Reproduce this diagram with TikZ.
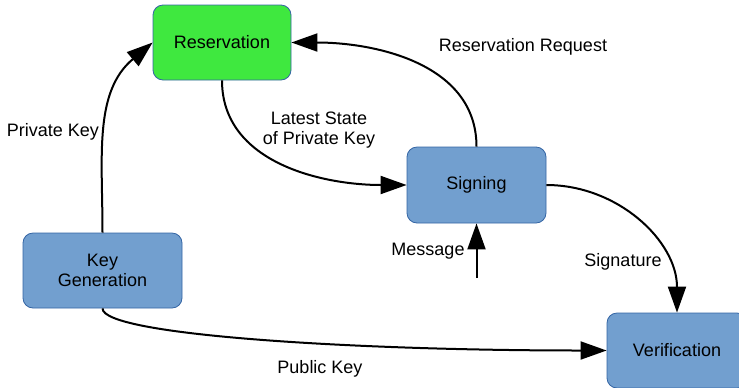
\documentclass[tikz,border=0pt]{standalone}
\usepackage{fontspec}
\setmainfont{Liberation Sans}
\usepackage{tikz}
\usetikzlibrary{arrows.meta}

\definecolor{boxblue}{HTML}{729FCF}
\definecolor{boxgreen}{HTML}{3FE83F}
\definecolor{edgeblue}{HTML}{3465A4}

\begin{document}
\begin{tikzpicture}[x=0.75pt, y=-0.75pt,
		font=\fontsize{13.5}{15}\selectfont,
		block/.style={draw=edgeblue, line width=0.6pt, fill=boxblue, rounded corners=7.5pt,
			inner sep=0pt, align=center, minimum height=56.25pt},
		link/.style={line width=1.5pt, -{Triangle[length=19.5pt, width=13.5pt]}}]
		\useasboundingbox (0,0) rectangle (739,387);
		
		% Coordinates
		\coordinate (C_res) at (222, 42.5);
		\coordinate (C_sig) at (476.5, 185);
		\coordinate (C_key) at (102.5, 270.5);
		\coordinate (C_ver) at (677, 350.5);
		\coordinate (C_msg) at (476.5, 278);
		
		% Boxes
		\node[block, fill=boxgreen, minimum width=103.5pt] (reserv) at (C_res) {Reservation};
		\node[block, minimum width=104.25pt, minimum height=57pt] (sign) at (C_sig) {Signing};
		\node[block, minimum width=119.25pt] (keygen) at (C_key) {Key\\Generation};
		\node[block, minimum width=105pt] (verif) at (C_ver) {Verification};
		
		% Connectors
		\draw[link] (keygen.north) to[out=90, in=220] (reserv.west);
		\draw[link] (reserv.south) to[out=-90, in=180] (sign.west);
		\draw[link] (sign.north) to[out=90, in=0] (reserv.east);
		\draw[link] (sign.east) to[out=0, in=90] (verif.north);
		\draw[link] (C_msg) -- (sign.south);
		\draw[link] (keygen.south) .. controls +(0,27) and +(-250,0) .. (verif.west);
		
		% Labels
		\node (l_priv) at (53, 132) {Private Key};
		\node[align=center] (l_state) at (319, 130) {Latest State\\of Private Key};
		\node (l_req) at (523, 47) {Reservation Request};
		\node (l_msg) at (428, 251) {Message};
		\node (l_sig) at (623, 262) {Signature};
		\node (l_pub) at (320, 369) {Public Key};
	\end{tikzpicture}
\end{document}
